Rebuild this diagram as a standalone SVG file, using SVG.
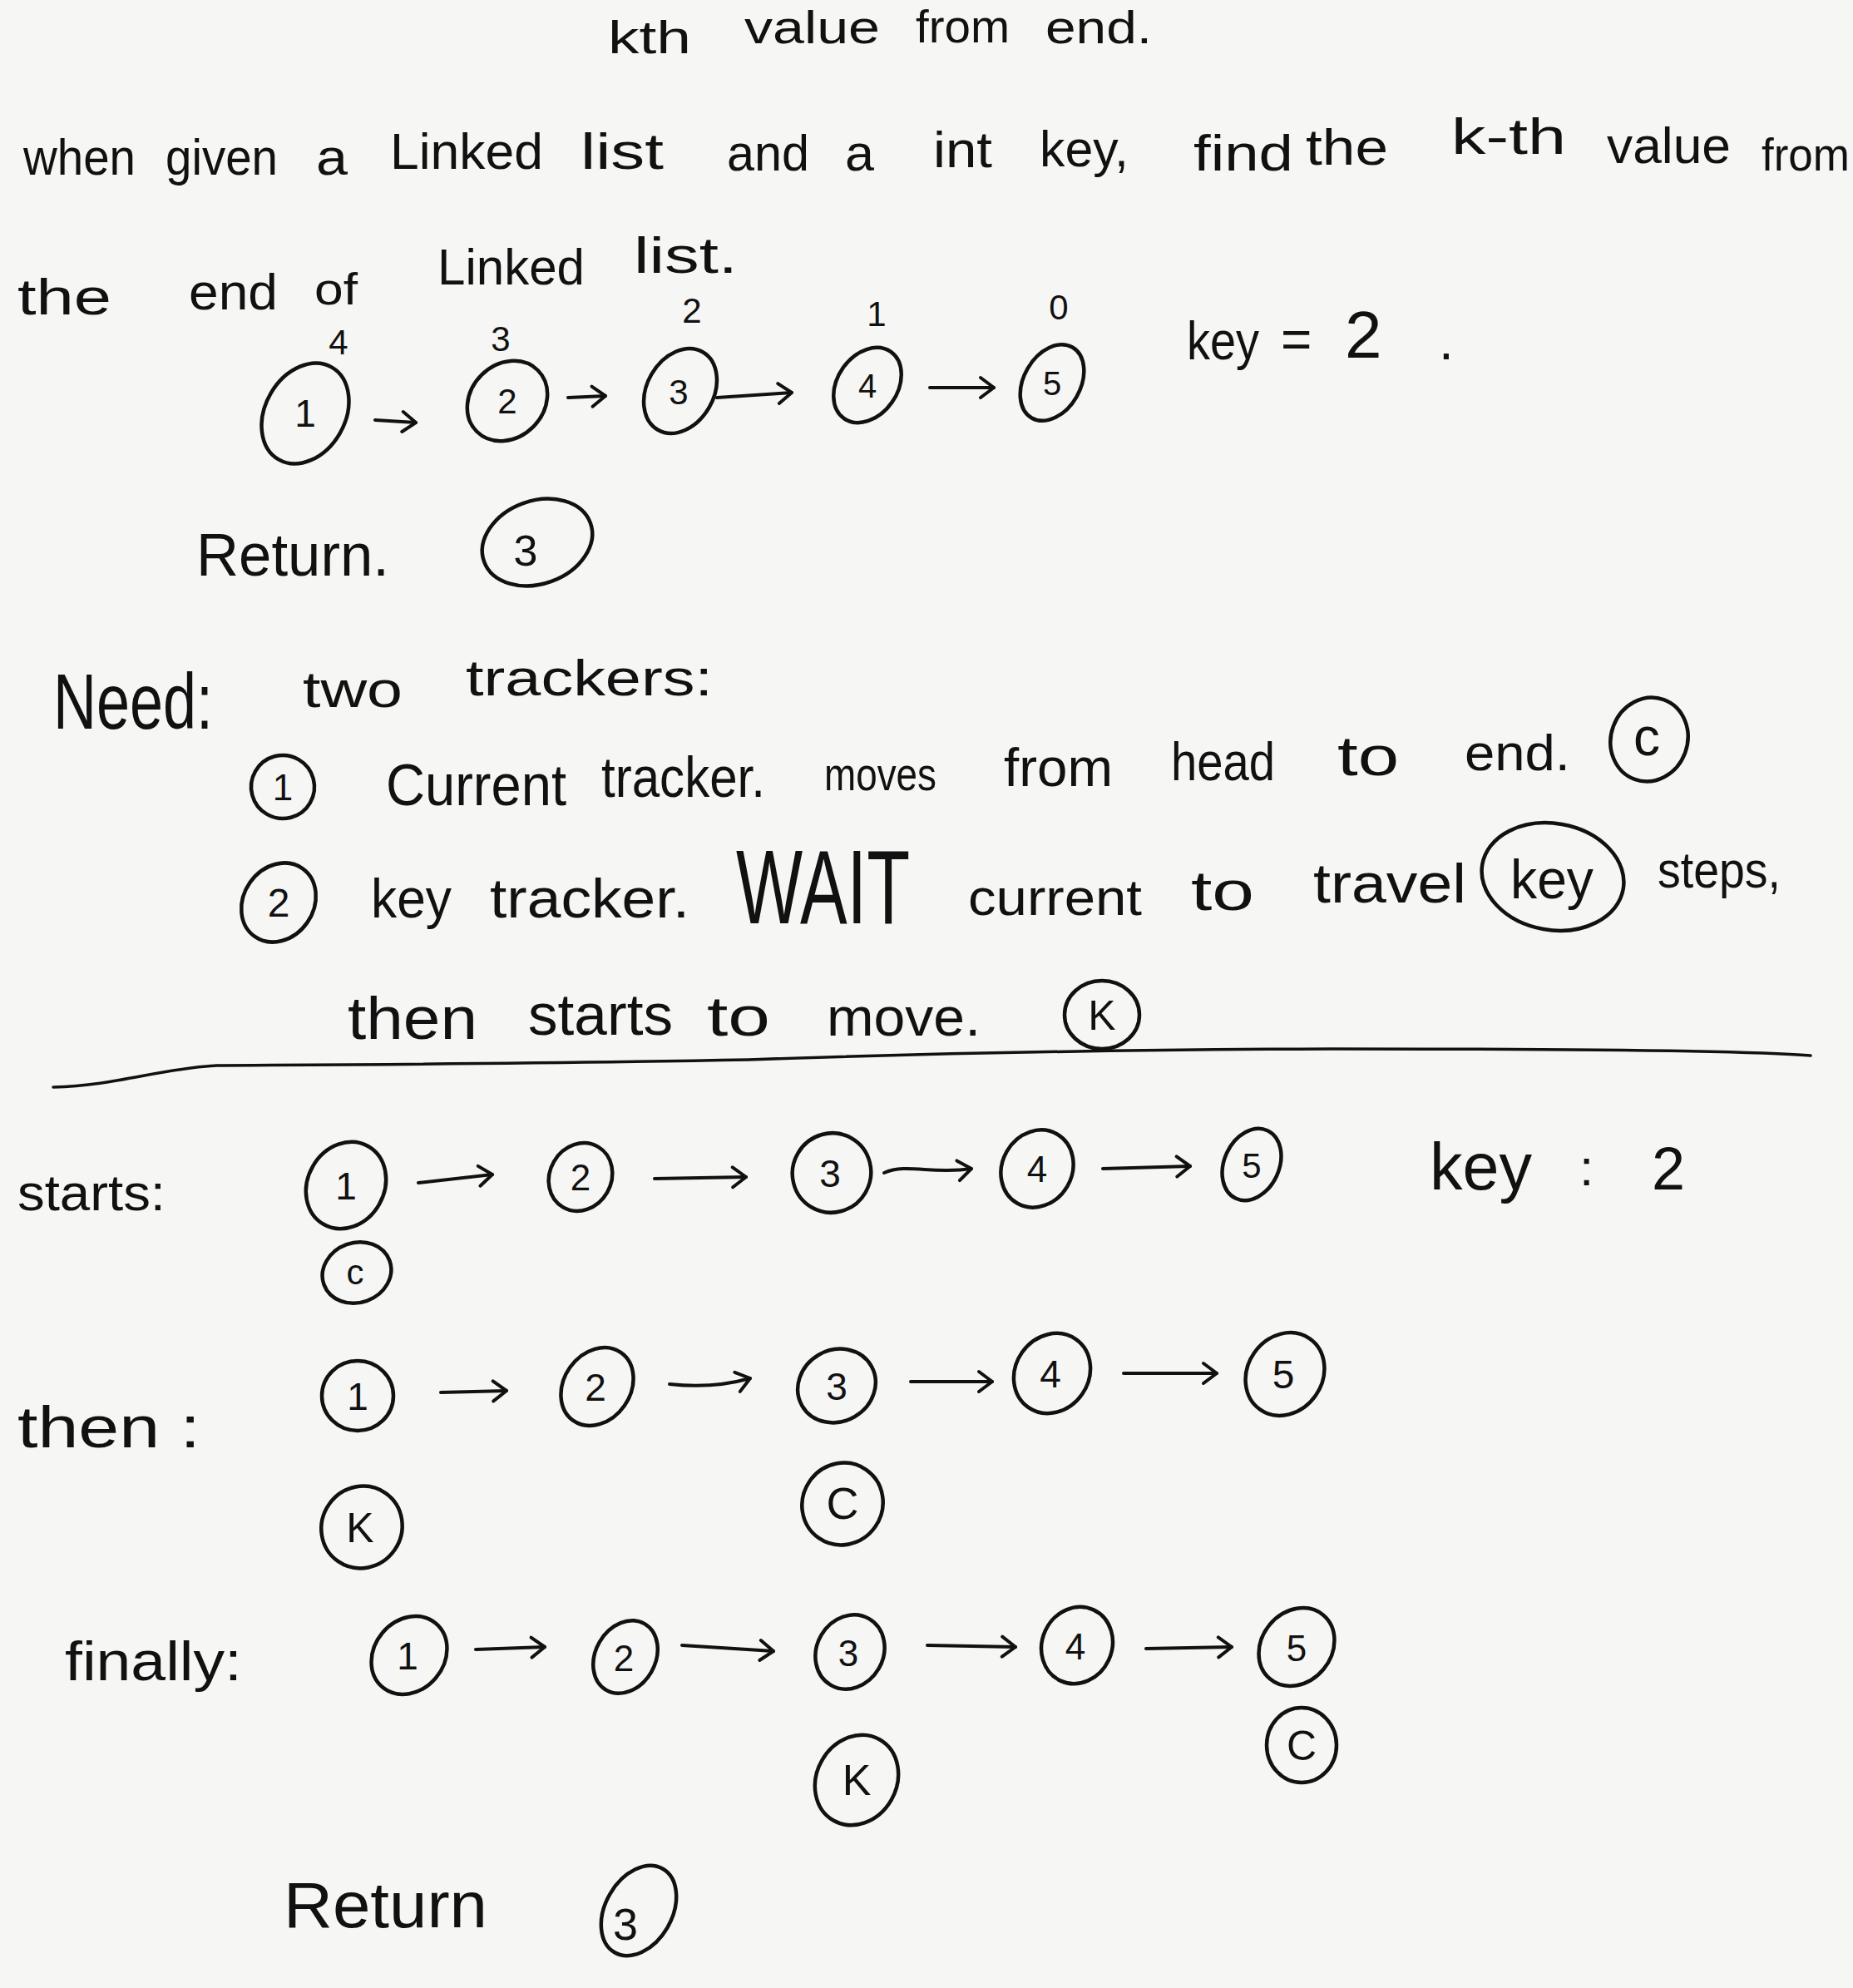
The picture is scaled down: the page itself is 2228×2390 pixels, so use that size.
<svg xmlns="http://www.w3.org/2000/svg" width="2228" height="2390" viewBox="0 0 2228 2390">
<style>
.t{font-family:"Liberation Sans",Arial,sans-serif;fill:#111;}
.n ellipse{fill:none;stroke:#111;stroke-width:4.5;}
.n text{font-family:"Liberation Sans",Arial,sans-serif;fill:#111;text-anchor:middle;}
.c path{fill:none;stroke:#111;stroke-width:4;stroke-linecap:round;}
.sep{fill:none;stroke:#111;stroke-width:3.5;stroke-linecap:round;}
</style>
<defs>
<marker id="ah" markerUnits="userSpaceOnUse" markerWidth="22" markerHeight="30" viewBox="0 0 22 30" refX="19" refY="15" orient="auto">
<path d="M3,3 L19,15 L3,27" fill="none" stroke="#111" stroke-width="4" stroke-linecap="round" stroke-linejoin="round"/>
</marker>
</defs>
<rect width="2228" height="2390" fill="#f6f6f4"/>

<g id="title" class="t" font-size="56">
<text x="731" y="64" textLength="100" lengthAdjust="spacingAndGlyphs">kth</text>
<text x="895" y="52" textLength="163" lengthAdjust="spacingAndGlyphs">value</text>
<text x="1101" y="51" textLength="113" lengthAdjust="spacingAndGlyphs">from</text>
<text x="1257" y="52" textLength="128" lengthAdjust="spacingAndGlyphs">end.</text>
</g>

<g id="problem" class="t" font-size="62">
<text x="28" y="210" textLength="135" lengthAdjust="spacingAndGlyphs">when</text>
<text x="199" y="210" textLength="135" lengthAdjust="spacingAndGlyphs">given</text>
<text x="380" y="210" textLength="38" lengthAdjust="spacingAndGlyphs">a</text>
<text x="469" y="203" textLength="184" lengthAdjust="spacingAndGlyphs">Linked</text>
<text x="698" y="203" textLength="100" lengthAdjust="spacingAndGlyphs">list</text>
<text x="874" y="205" textLength="99" lengthAdjust="spacingAndGlyphs">and</text>
<text x="1016" y="205" textLength="35" lengthAdjust="spacingAndGlyphs">a</text>
<text x="1122" y="201" textLength="71" lengthAdjust="spacingAndGlyphs">int</text>
<text x="1250" y="200" textLength="107" lengthAdjust="spacingAndGlyphs">key,</text>
<text x="1435" y="205" textLength="120" lengthAdjust="spacingAndGlyphs">find</text>
<text x="1570" y="198" textLength="99" lengthAdjust="spacingAndGlyphs">the</text>
<text x="1745" y="185" textLength="138" lengthAdjust="spacingAndGlyphs">k-th</text>
<text x="1932" y="196" textLength="149" lengthAdjust="spacingAndGlyphs">value</text>
<text x="2118" y="205" font-size="56" textLength="106" lengthAdjust="spacingAndGlyphs">from</text>
<text x="21" y="378" textLength="113" lengthAdjust="spacingAndGlyphs">the</text>
<text x="227" y="372" textLength="107" lengthAdjust="spacingAndGlyphs">end</text>
<text x="378" y="366" font-size="54" textLength="52" lengthAdjust="spacingAndGlyphs">of</text>
<text x="526" y="342" textLength="177" lengthAdjust="spacingAndGlyphs">Linked</text>
<text x="762" y="328" textLength="125" lengthAdjust="spacingAndGlyphs">list.</text>
</g>

<g id="indices" class="t" font-size="42" text-anchor="middle">
<text x="407" y="426">4</text>
<text x="602" y="422">3</text>
<text x="832" y="388">2</text>
<text x="1054" y="392">1</text>
<text x="1273" y="384">0</text>
</g>

<g id="key-top" class="t" font-size="64">
<text x="1427" y="432" textLength="87" lengthAdjust="spacingAndGlyphs">key</text>
<text x="1540" y="430">=</text>
<text x="1617" y="430" font-size="80">2</text>
<text x="1730" y="432">.</text>
</g>

<g id="r1n1" class="n"><ellipse cx="367" cy="497" rx="48" ry="64" transform="rotate(30 367 497)"/><text x="367" y="513" font-size="46">1</text></g>
<g id="r1n2" class="n"><ellipse cx="610" cy="482" rx="44" ry="52" transform="rotate(45 610 482)"/><text x="610" y="497" font-size="42">2</text></g>
<g id="r1n3" class="n"><ellipse cx="818" cy="470" rx="40" ry="54" transform="rotate(30 818 470)"/><text x="816" y="486" font-size="42">3</text></g>
<g id="r1n4" class="n"><ellipse cx="1043" cy="463" rx="36" ry="49" transform="rotate(35 1043 463)"/><text x="1043" y="478" font-size="40">4</text></g>
<g id="r1n5" class="n"><ellipse cx="1265" cy="460" rx="34" ry="49" transform="rotate(30 1265 460)"/><text x="1265" y="475" font-size="40">5</text></g>

<g id="return1" class="t" font-size="72">
<text x="236" y="692" textLength="232" lengthAdjust="spacingAndGlyphs">Return.</text>
</g>
<g id="return1-node" class="n"><ellipse cx="646" cy="652" rx="68" ry="50" transform="rotate(-20 646 652)"/><text x="632" y="680" font-size="52">3</text></g>

<g id="need" class="t">
<text x="64" y="876" font-size="95" textLength="192" lengthAdjust="spacingAndGlyphs">Need:</text>
<text x="364" y="850" font-size="62" textLength="120" lengthAdjust="spacingAndGlyphs">two</text>
<text x="560" y="836" font-size="62" textLength="297" lengthAdjust="spacingAndGlyphs">trackers:</text>
</g>

<g id="step1" class="t">
<text x="464" y="968" font-size="70" textLength="217" lengthAdjust="spacingAndGlyphs">Current</text>
<text x="723" y="958" font-size="68" textLength="197" lengthAdjust="spacingAndGlyphs">tracker.</text>
<text x="991" y="950" font-size="56" textLength="135" lengthAdjust="spacingAndGlyphs">moves</text>
<text x="1207" y="945" font-size="64" textLength="131" lengthAdjust="spacingAndGlyphs">from</text>
<text x="1408" y="938" font-size="64" textLength="125" lengthAdjust="spacingAndGlyphs">head</text>
<text x="1608" y="932" font-size="66" textLength="74" lengthAdjust="spacingAndGlyphs">to</text>
<text x="1761" y="926" font-size="62" textLength="127" lengthAdjust="spacingAndGlyphs">end.</text>
</g>
<g id="num1" class="n"><ellipse cx="340" cy="946" rx="38" ry="38" transform="rotate(30 340 946)"/><text x="340" y="962" font-size="44">1</text></g>
<g id="tag-c1" class="n"><ellipse cx="1983" cy="889" rx="46" ry="51" transform="rotate(20 1983 889)"/><text x="1980" y="908" font-size="64">c</text></g>

<g id="step2" class="t">
<text x="446" y="1103" font-size="66" textLength="97" lengthAdjust="spacingAndGlyphs">key</text>
<text x="589" y="1103" font-size="66" textLength="240" lengthAdjust="spacingAndGlyphs">tracker.</text>
<text transform="translate(885 1110) scale(1 1.5)" x="0" y="0" font-size="84" textLength="209" lengthAdjust="spacingAndGlyphs">WAIT</text>
<text x="1164" y="1100" font-size="62" textLength="209" lengthAdjust="spacingAndGlyphs">current</text>
<text x="1432" y="1094" font-size="66" textLength="76" lengthAdjust="spacingAndGlyphs">to</text>
<text x="1579" y="1085" font-size="66" textLength="184" lengthAdjust="spacingAndGlyphs">travel</text>
<text x="1993" y="1067" font-size="62" textLength="148" lengthAdjust="spacingAndGlyphs">steps,</text>
<text x="418" y="1249" font-size="72" textLength="156" lengthAdjust="spacingAndGlyphs">then</text>
<text x="635" y="1244" font-size="70" textLength="174" lengthAdjust="spacingAndGlyphs">starts</text>
<text x="850" y="1245" font-size="66" textLength="76" lengthAdjust="spacingAndGlyphs">to</text>
<text x="994" y="1245" font-size="64" textLength="185" lengthAdjust="spacingAndGlyphs">move.</text>
</g>
<g id="num2" class="n"><ellipse cx="335" cy="1085" rx="42" ry="50" transform="rotate(35 335 1085)"/><text x="335" y="1102" font-size="48">2</text></g>
<g id="key-circled" class="n"><ellipse cx="1867" cy="1054" rx="86" ry="64" transform="rotate(10 1867 1054)"/><text x="1866" y="1080" font-size="66" textLength="100" lengthAdjust="spacingAndGlyphs">key</text></g>
<g id="tag-k1" class="n"><ellipse cx="1325" cy="1220" rx="45" ry="41"/><text x="1325" y="1238" font-size="50">K</text></g>

<path class="sep" d="M64,1307 C140,1305 190,1285 260,1281 C400,1280 640,1279 900,1274 C1100,1267 1300,1262 1600,1261 C1900,1261 2100,1263 2177,1269"/>

<g id="labels" class="t">
<text x="21" y="1455" font-size="62" textLength="178" lengthAdjust="spacingAndGlyphs">starts:</text>
<text x="21" y="1740" font-size="70" textLength="220" lengthAdjust="spacingAndGlyphs">then :</text>
<text x="78" y="2020" font-size="66" textLength="213" lengthAdjust="spacingAndGlyphs">finally:</text>
</g>

<g id="key-bottom" class="t">
<text x="1719" y="1430" font-size="80" textLength="123" lengthAdjust="spacingAndGlyphs">key</text>
<text x="1899" y="1425" font-size="62">:</text>
<text x="1986" y="1430" font-size="72">2</text>
</g>

<g id="s1" class="n"><ellipse cx="416" cy="1425" rx="46" ry="54" transform="rotate(30 416 1425)"/><text x="416" y="1442" font-size="46">1</text></g>
<g id="s2" class="n"><ellipse cx="698" cy="1415" rx="37" ry="42" transform="rotate(30 698 1415)"/><text x="698" y="1431" font-size="44">2</text></g>
<g id="s3" class="n"><ellipse cx="1000" cy="1410" rx="47" ry="48" transform="rotate(30 1000 1410)"/><text x="998" y="1427" font-size="46">3</text></g>
<g id="s4" class="n"><ellipse cx="1247" cy="1405" rx="42" ry="48" transform="rotate(30 1247 1405)"/><text x="1247" y="1421" font-size="44">4</text></g>
<g id="s5" class="n"><ellipse cx="1505" cy="1400" rx="33" ry="45" transform="rotate(25 1505 1400)"/><text x="1505" y="1416" font-size="42">5</text></g>
<g id="s-c" class="n"><ellipse cx="429" cy="1530" rx="42" ry="36" transform="rotate(-20 429 1530)"/><text x="427" y="1544" font-size="42">c</text></g>

<g id="t1" class="n"><ellipse cx="430" cy="1678" rx="43" ry="42"/><text x="430" y="1695" font-size="46">1</text></g>
<g id="t2" class="n"><ellipse cx="718" cy="1667" rx="40" ry="50" transform="rotate(35 718 1667)"/><text x="716" y="1684" font-size="46">2</text></g>
<g id="t3" class="n"><ellipse cx="1006" cy="1666" rx="48" ry="43" transform="rotate(-30 1006 1666)"/><text x="1006" y="1683" font-size="46">3</text></g>
<g id="t4" class="n"><ellipse cx="1265" cy="1651" rx="44" ry="50" transform="rotate(35 1265 1651)"/><text x="1263" y="1668" font-size="46">4</text></g>
<g id="t5" class="n"><ellipse cx="1545" cy="1652" rx="45" ry="52" transform="rotate(35 1545 1652)"/><text x="1543" y="1669" font-size="48">5</text></g>
<g id="t-k" class="n"><ellipse cx="435" cy="1836" rx="48" ry="50" transform="rotate(35 435 1836)"/><text x="433" y="1854" font-size="50">K</text></g>
<g id="t-c" class="n"><ellipse cx="1013" cy="1808" rx="48" ry="50" transform="rotate(35 1013 1808)"/><text x="1013" y="1826" font-size="54">C</text></g>

<g id="f1" class="n"><ellipse cx="492" cy="1990" rx="42" ry="50" transform="rotate(40 492 1990)"/><text x="490" y="2007" font-size="46">1</text></g>
<g id="f2" class="n"><ellipse cx="752" cy="1992" rx="36" ry="46" transform="rotate(30 752 1992)"/><text x="750" y="2009" font-size="44">2</text></g>
<g id="f3" class="n"><ellipse cx="1022" cy="1986" rx="40" ry="46" transform="rotate(30 1022 1986)"/><text x="1020" y="2003" font-size="44">3</text></g>
<g id="f4" class="n"><ellipse cx="1295" cy="1978" rx="42" ry="47" transform="rotate(25 1295 1978)"/><text x="1293" y="1995" font-size="44">4</text></g>
<g id="f5" class="n"><ellipse cx="1559" cy="1980" rx="42" ry="50" transform="rotate(40 1559 1980)"/><text x="1559" y="1997" font-size="44">5</text></g>
<g id="f-k" class="n"><ellipse cx="1030" cy="2140" rx="48" ry="56" transform="rotate(30 1030 2140)"/><text x="1030" y="2158" font-size="52">K</text></g>
<g id="f-c" class="n"><ellipse cx="1565" cy="2098" rx="42" ry="45"/><text x="1565" y="2116" font-size="50">C</text></g>

<g id="return2" class="t">
<text x="341" y="2317" font-size="78" textLength="245" lengthAdjust="spacingAndGlyphs">Return</text>
</g>
<g id="return2-node" class="n"><ellipse cx="768" cy="2297" rx="40" ry="58" transform="rotate(30 768 2297)"/><text x="752" y="2332" font-size="54">3</text></g>

<g id="connectors" class="c">
<path d="M451,505 L500,508" marker-end="url(#ah)"/>
<path d="M683,478 L728,476" marker-end="url(#ah)"/>
<path d="M862,478 L952,472" marker-end="url(#ah)"/>
<path d="M1118,466 L1195,466" marker-end="url(#ah)"/>
<path d="M503,1422 L592,1412" marker-end="url(#ah)"/>
<path d="M787,1417 L897,1415" marker-end="url(#ah)"/>
<path d="M1063,1410 C1090,1398 1120,1412 1168,1405" marker-end="url(#ah)"/>
<path d="M1326,1405 L1431,1402" marker-end="url(#ah)"/>
<path d="M530,1674 L609,1672" marker-end="url(#ah)"/>
<path d="M805,1664 C840,1668 870,1666 902,1657" marker-end="url(#ah)"/>
<path d="M1095,1661 L1193,1661" marker-end="url(#ah)"/>
<path d="M1351,1651 L1463,1651" marker-end="url(#ah)"/>
<path d="M572,1983 L655,1980" marker-end="url(#ah)"/>
<path d="M820,1978 L930,1985" marker-end="url(#ah)"/>
<path d="M1115,1978 L1221,1980" marker-end="url(#ah)"/>
<path d="M1378,1982 L1481,1980" marker-end="url(#ah)"/>
</g>
</svg>
